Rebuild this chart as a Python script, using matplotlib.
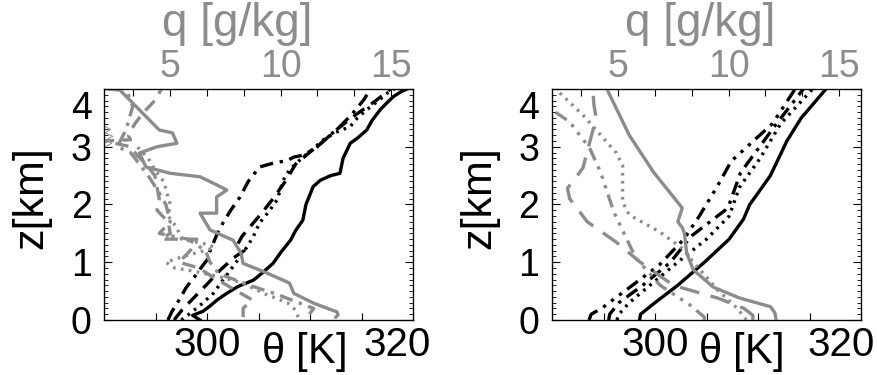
"""
Potential temperature and specific humidity profiles, two panels.
"""
import matplotlib.pyplot as plt
import matplotlib.transforms as mtrans
from matplotlib.ticker import FixedLocator, MultipleLocator, NullFormatter

plt.rcParams['font.family'] = ['Liberation Sans', 'DejaVu Sans']

GREY = '#8c8c8c'

# ---- left panel: soundings (theta in K, q in g/kg, z in km) ----
z_l_solid = [0.0, 0.08, 0.15, 0.23, 0.35, 0.46, 0.58, 0.69, 0.82, 0.98, 1.18, 1.38, 1.55, 1.73,
             2.0, 2.31, 2.42, 2.5, 2.54, 2.8, 3.06, 3.15, 3.29, 3.45, 3.64, 3.75, 3.87, 3.95, 4.0]
theta_l_solid = [299.3, 298.6, 299.6, 300.2, 301.0, 301.9, 303.0, 304.5, 305.4, 306.4, 307.2, 308.1,
                 308.6, 309.3, 309.6, 310.3, 311.0, 312.0, 312.9, 313.2, 313.9, 314.6, 315.5, 316.0,
                 316.8, 317.4, 318.1, 318.8, 319.4]

z_l_dotted = [0.0, 0.12, 0.28, 0.46, 0.68, 0.92, 1.27, 1.45, 1.68, 1.88, 2.08, 2.42, 2.6, 2.77,
              2.92, 3.12, 3.25, 3.35, 3.5, 3.64, 3.78, 3.93, 4.0]
theta_l_dotted = [297.5, 298.4, 299.5, 300.6, 301.5, 302.5, 303.9, 304.5, 305.1, 306.0, 306.8, 307.4,
                  308.0, 309.0, 310.0, 311.3, 312.5, 313.9, 314.6, 315.5, 316.5, 317.5, 318.2]

z_l_dashed = [0.0, 0.18, 0.4, 0.62, 0.85, 1.08, 1.2, 1.32, 1.45, 1.62, 1.85, 2.1, 2.4, 2.7, 2.88,
              3.05, 3.3, 3.55, 3.8, 4.0]
theta_l_dashed = [296.8, 297.6, 298.8, 300.0, 301.2, 302.6, 303.6, 303.0, 303.4, 304.2, 305.3, 306.4,
                  307.6, 308.6, 309.8, 311.0, 312.6, 314.4, 316.4, 317.8]

z_l_dashdot = [0.0, 0.15, 0.35, 0.57, 0.75, 0.9, 1.04, 1.2, 1.5, 1.7, 1.9, 2.13, 2.4, 2.65, 2.72,
               2.76, 2.82, 2.85, 2.92, 3.0, 3.18, 3.35, 3.55, 3.81, 3.98]
theta_l_dashdot = [296.2, 296.6, 297.3, 298.0, 298.8, 299.4, 300.0, 300.3, 301.0, 301.6, 302.3, 303.2,
                   304.0, 305.1, 306.5, 307.8, 308.4, 309.2, 310.0, 310.7, 311.8, 312.9, 314.0, 315.2,
                   315.8]

zq_l_solid = [0.05, 0.09, 0.14, 0.29, 0.46, 0.64, 0.81, 0.98, 1.16, 1.38, 1.56, 1.85, 1.85, 2.13,
              2.25, 2.31, 2.48, 2.54, 2.65, 2.89, 3.0, 3.06, 3.24, 3.29, 3.64, 3.98, 4.0]
q_l_solid = [12.5, 12.6, 12.55, 11.5, 10.6, 10.4, 9.4, 8.3, 8.2, 7.85, 6.8, 6.35, 7.1, 7.1, 7.56,
             7.26, 6.35, 5.0, 3.9, 3.6, 4.4, 5.3, 5.1, 4.5, 3.6, 2.72, 2.2]

zq_l_dashed = [0.05, 0.2, 0.35, 0.55, 0.75, 0.9, 1.0, 1.2, 1.4, 1.4, 1.5, 1.7, 1.9, 2.1, 2.3, 2.5,
               2.7, 2.85, 3.0, 3.1, 3.12, 3.2, 3.4, 3.6, 3.8, 4.0]
q_l_dashed = [8.3, 8.3, 8.7, 7.8, 6.9, 6.3, 5.4, 5.9, 6.2, 4.6, 5.0, 4.9, 4.4, 4.5, 4.4, 4.3, 3.9,
              3.5, 3.2, 2.0, 3.2, 3.1, 3.4, 3.8, 4.3, 4.6]

zq_l_dotted = [0.05, 0.2, 0.3, 0.45, 0.65, 0.75, 0.85, 0.9, 1.0, 1.1, 1.25, 1.3, 1.4, 1.6, 1.8,
               2.0, 2.4, 2.6, 2.8, 3.0]
q_l_dotted = [10.8, 10.6, 10.3, 9.3, 8.2, 7.2, 6.0, 5.2, 4.8, 5.6, 7.0, 6.8, 5.5, 5.3, 4.9, 5.0,
              4.7, 4.3, 4.0, 3.5]

zq_l_dashdot = [0.1, 0.2, 0.3, 0.45, 0.6, 0.8, 1.0, 1.2, 1.4, 1.5, 1.7, 2.0, 2.2, 2.5, 2.7, 2.9,
                3.0, 3.3, 3.7, 4.0]
q_l_dashdot = [11.3, 11.5, 10.8, 9.8, 8.6, 7.2, 6.8, 6.6, 5.8, 4.5, 5.0, 4.8, 4.5, 4.0, 3.6, 3.2,
               2.6, 3.0, 3.3, 3.0]

zq_l_thin = [3.0, 3.06, 3.12, 3.18, 3.24, 3.3, 3.36]
q_l_thin = [2.05, 2.35, 2.1, 2.4, 2.05, 2.3, 2.0]

# ---- right panel: mean profiles ----
z_r_solid = [0.0, 0.1, 0.3, 0.6, 1.0, 1.4, 1.75, 2.0, 2.5, 3.1, 3.5, 4.0]
theta_r_solid = [298.5, 298.6, 300.0, 302.2, 304.8, 307.2, 308.6, 309.2, 311.2, 312.8, 314.2, 316.6]

z_r_dotted = [0.0, 0.1, 0.3, 0.6, 1.0, 1.4, 1.8, 2.3, 2.8, 3.4, 4.0]
theta_r_dotted = [296.3, 296.5, 297.5, 299.5, 302.2, 305.0, 307.2, 308.2, 310.2, 312.2, 315.3]

z_r_dashdot = [0.0, 0.1, 0.3, 0.6, 1.0, 1.45, 1.9, 2.0, 2.55, 3.4, 4.0]
theta_r_dashdot = [295.5, 295.6, 296.5, 298.8, 301.5, 303.5, 306.8, 307.2, 308.3, 311.8, 314.4]

z_r_dash3dot = [0.0, 0.1, 0.2, 0.6, 0.95, 1.4, 1.8, 2.3, 2.75, 3.4, 4.0]
theta_r_dash3dot = [293.6, 293.8, 294.8, 297.8, 300.4, 302.8, 304.3, 306.0, 307.4, 311.4, 313.6]

zq_r_solid = [0.0, 0.12, 0.23, 0.38, 0.57, 0.87, 1.16, 1.5, 1.6, 1.7, 1.94, 2.56, 3.2, 3.95, 4.0]
q_r_solid = [12.15, 12.1, 11.9, 10.5, 9.3, 8.4, 8.1, 8.0, 7.9, 7.7, 7.9, 6.6, 5.5, 4.55, 4.5]

zq_r_dotted = [0.0, 0.2, 0.52, 0.81, 1.0, 1.24, 1.52, 1.82, 2.04, 2.68, 2.9, 3.55, 3.93, 4.1]
q_r_dotted = [10.8, 10.4, 9.5, 8.85, 8.4, 7.9, 6.9, 5.5, 5.2, 5.2, 4.9, 3.4, 2.36, 2.0]

zq_r_dashed = [0.0, 0.08, 0.2, 0.38, 0.6, 1.0, 1.35, 1.7, 2.1, 2.28, 2.63, 3.5, 3.72, 4.0]
q_r_dashed = [11.1, 11.1, 10.7, 9.5, 7.5, 6.0, 4.9, 3.6, 2.8, 2.7, 3.4, 4.0, 3.9, 3.85]

zq_r_dash3dot = [0.0, 0.05, 0.26, 0.6, 1.07, 1.87, 2.56, 2.98, 3.43, 3.64, 3.8]
q_r_dash3dot = [8.9, 8.9, 8.25, 6.9, 5.8, 4.8, 4.2, 3.7, 2.8, 2.0, 1.6]

DOT = (0, (0.8, 1.6))
DASH = (0, (4, 2.5))
LONGDASH = (0, (6, 3.5))
DASHDOT = (0, (4, 2, 1, 2))
DASH3DOT = (0, (4, 2, 1, 2, 1, 2, 1, 2))


def style_axes(ax, axq, theta_x, q_x, shift320):
    ax.set_xlim(290, 320)
    ax.set_ylim(0, 4)
    axq.set_xlim(2, 16)

    ax.xaxis.set_major_locator(FixedLocator([295, 300, 305, 310, 315, 320]))
    ax.set_xticklabels(['', '300', '', '', '', '320'])
    ax.yaxis.set_major_locator(MultipleLocator(1))
    ax.yaxis.set_minor_locator(MultipleLocator(0.1))
    ax.tick_params(axis='x', which='both', direction='in', top=False, length=5, width=0.8,
                   labelsize=29, pad=4, colors='black')
    ax.tick_params(axis='y', which='major', direction='in', left=True, right=True, length=6,
                   width=0.8, labelsize=27, pad=9)
    ax.tick_params(axis='y', which='minor', direction='in', left=True, right=True, length=3,
                   width=0.6)

    axq.xaxis.set_major_locator(FixedLocator([5, 10, 15]))
    axq.xaxis.set_minor_locator(MultipleLocator(5 / 3))
    axq.xaxis.set_minor_formatter(NullFormatter())
    axq.tick_params(axis='x', which='major', direction='in', length=5, width=0.8,
                    labelsize=27, pad=3, labelcolor=GREY)
    axq.tick_params(axis='x', which='minor', direction='in', length=5, width=0.8)

    for sp in ax.spines.values():
        sp.set_linewidth(0.9)

    fig = ax.figure
    # 320 sits a little left of its tick, 4 a little below its tick
    shift_left = mtrans.ScaledTranslation(-shift320, 0, fig.dpi_scale_trans)
    lab = ax.get_xticklabels()[-1]
    lab.set_transform(lab.get_transform() + shift_left)
    shift_down = mtrans.ScaledTranslation(0, -0.16, fig.dpi_scale_trans)
    for lab in ax.get_yticklabels():
        if lab.get_text() == '4':
            lab.set_transform(lab.get_transform() + shift_down)

    ax.set_ylabel('z[km]', fontsize=31)
    ax.yaxis.set_label_coords(-0.235, 0.53)
    ax.yaxis.label.set_va('center')
    ax.set_xlabel(r'$\mathregular{\theta}$ [K]', fontsize=30)
    ax.xaxis.set_label_coords(theta_x, -0.14)
    ax.xaxis.label.set_va('center')
    axq.set_xlabel('q [g/kg]', fontsize=33, color=GREY)
    axq.xaxis.set_label_coords(q_x, 1.28)
    axq.xaxis.label.set_va('center')


fig = plt.figure(figsize=(8.78, 3.75), dpi=100)
ax1 = fig.add_axes([0.1185, 0.1467, 0.352, 0.616])
ax2 = fig.add_axes([0.6287, 0.1467, 0.352, 0.616])
ax1q = ax1.twiny()
ax2q = ax2.twiny()

lw_k = 2.4
lw_g = 2.4

# left panel
ax1.plot(theta_l_solid, z_l_solid, color='black', lw=lw_k, ls='-')
ax1.plot(theta_l_dotted, z_l_dotted, color='black', lw=lw_k, ls=DOT)
ax1.plot(theta_l_dashed, z_l_dashed, color='black', lw=lw_k, ls=DASH)
ax1.plot(theta_l_dashdot, z_l_dashdot, color='black', lw=lw_k, ls=DASHDOT)
ax1q.plot(q_l_solid, zq_l_solid, color=GREY, lw=lw_g, ls='-')
ax1q.plot(q_l_dotted, zq_l_dotted, color=GREY, lw=lw_g, ls=DOT)
ax1q.plot(q_l_dashed, zq_l_dashed, color=GREY, lw=lw_g, ls=DASH)
ax1q.plot(q_l_dashdot, zq_l_dashdot, color=GREY, lw=lw_g, ls=DASHDOT)
ax1q.plot(q_l_thin, zq_l_thin, color=GREY, lw=0.7, ls='-')

# right panel
ax2.plot(theta_r_solid, z_r_solid, color='black', lw=lw_k, ls='-')
ax2.plot(theta_r_dotted, z_r_dotted, color='black', lw=lw_k, ls=DOT)
ax2.plot(theta_r_dashdot, z_r_dashdot, color='black', lw=lw_k, ls=DASHDOT)
ax2.plot(theta_r_dash3dot, z_r_dash3dot, color='black', lw=lw_k, ls=DASH3DOT)
ax2q.plot(q_r_solid, zq_r_solid, color=GREY, lw=lw_g, ls='-')
ax2q.plot(q_r_dotted, zq_r_dotted, color=GREY, lw=lw_g, ls=DOT)
ax2q.plot(q_r_dashed, zq_r_dashed, color=GREY, lw=lw_g, ls=LONGDASH)
ax2q.plot(q_r_dash3dot, zq_r_dash3dot, color=GREY, lw=lw_g, ls=DASH3DOT)

style_axes(ax1, ax1q, theta_x=0.645, q_x=0.43, shift320=0.16)
style_axes(ax2, ax2q, theta_x=0.61, q_x=0.48, shift320=0.2)

fig.savefig('out.png', dpi=100)
